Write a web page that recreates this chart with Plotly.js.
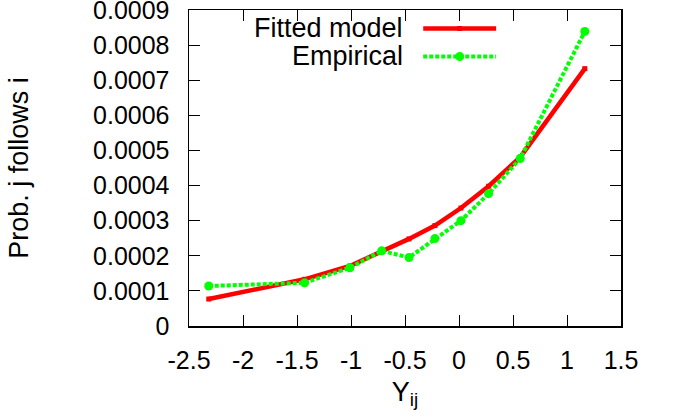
<!DOCTYPE html>
<html>
<head>
<meta charset="utf-8">
<script src="https://cdn.plot.ly/plotly-3.0.1.min.js"></script>
<style>html,body{margin:0;padding:0;background:#fff;}#chart{width:673px;height:419px;}</style>
</head>
<body>
<div id="chart"></div>
<script>
// Data
const yij = [-2.317, -1.43, -1.01, -0.716, -0.463, -0.223, 0.018, 0.274, 0.567, 1.165];
const fitted = [0.0000768, 0.000133, 0.000171, 0.000212, 0.000248, 0.000286, 0.000336, 0.000398, 0.000481, 0.000733];
const empirical = [0.000114, 0.000123, 0.000166, 0.000214, 0.000195, 0.000249, 0.000300, 0.000377, 0.000477, 0.000839];
const xTickVals = [-2.5, -2, -1.5, -1, -0.5, 0, 0.5, 1, 1.5];
const xTickText = ["-2.5", "-2", "-1.5", "-1", "-0.5", "0", "0.5", "1", "1.5"];
const yTickVals = [0, 0.0001, 0.0002, 0.0003, 0.0004, 0.0005, 0.0006, 0.0007, 0.0008, 0.0009];
const yTickText = ["0", "0.0001", "0.0002", "0.0003", "0.0004", "0.0005", "0.0006", "0.0007", "0.0008", "0.0009"];
const seriesNames = ["Fitted model", "Empirical"];

const RED = '#ff0000', GREEN = '#00ff00';
const FONT = 'Liberation Sans, Arial, Helvetica, sans-serif';

const traces = [
  {x: yij, y: fitted, name: seriesNames[0], mode: 'lines+markers', type: 'scatter',
   line: {color: RED, width: 4.5}, marker: {color: RED, symbol: 'square', size: 5}},
  {x: yij, y: empirical, name: seriesNames[1], mode: 'lines+markers', type: 'scatter',
   line: {color: GREEN, width: 4, dash: '4px,2px'}, marker: {color: GREEN, symbol: 'circle', size: 9}}
];

// Gnuplot-style legend: text right-aligned, line sample on the right
const legRows = [0.9415, 0.853];
const annotations = seriesNames.map((n, i) => ({
  xref: 'paper', yref: 'paper', x: 0.5006, y: legRows[i], xanchor: 'right', yanchor: 'middle',
  text: n, showarrow: false, font: {family: FONT, size: 27, color: '#000'}
}));
const shapes = [];
shapes.push({type: 'line', xref: 'paper', yref: 'paper', x0: 0.5422, x1: 0.711, y0: legRows[0], y1: legRows[0],
  line: {color: RED, width: 4.5}});
shapes.push({type: 'rect', xref: 'paper', yref: 'paper', xsizemode: 'pixel', ysizemode: 'pixel',
  xanchor: 0.6266, yanchor: legRows[0], x0: -2.5, x1: 2.5, y0: -2.5, y1: 2.5,
  fillcolor: RED, line: {width: 0}});
shapes.push({type: 'line', xref: 'paper', yref: 'paper', x0: 0.5422, x1: 0.711, y0: legRows[1], y1: legRows[1],
  line: {color: GREEN, width: 4, dash: '4px,2px'}});
shapes.push({type: 'circle', xref: 'paper', yref: 'paper', xsizemode: 'pixel', ysizemode: 'pixel',
  xanchor: 0.6266, yanchor: legRows[1], x0: -4.5, x1: 4.5, y0: -4.5, y1: 4.5,
  fillcolor: GREEN, line: {width: 0}});

const layout = {
  width: 673, height: 419,
  margin: {l: 188.5, r: 52, t: 9.5, b: 93, pad: 0},
  paper_bgcolor: '#fff', plot_bgcolor: '#fff',
  showlegend: false,
  font: {family: FONT, color: '#000', size: 25},
  xaxis: {
    range: [-2.5, 1.5], tickvals: xTickVals, ticktext: xTickText,
    ticks: 'inside', ticklen: 11, tickwidth: 1, tickcolor: '#000',
    showline: true, linecolor: '#000', linewidth: 1.5, mirror: 'allticks',
    showgrid: false, zeroline: false, ticklabelstandoff: 11, ticklabeloverflow: 'allow',
    tickfont: {family: FONT, size: 25, color: '#000'},
    title: {text: 'Y<sub>ij</sub>', font: {family: FONT, size: 27, color: '#000'}, standoff: 9}
  },
  yaxis: {
    range: [0, 0.0009], tickvals: yTickVals, ticktext: yTickText,
    ticks: 'inside', ticklen: 11, tickwidth: 1, tickcolor: '#000',
    showline: true, linecolor: '#000', linewidth: 1.5, mirror: 'allticks',
    showgrid: false, zeroline: false, ticklabelstandoff: 13, ticklabeloverflow: 'allow',
    tickfont: {family: FONT, size: 25, color: '#000'},
    title: {text: 'Prob. j follows i', font: {family: FONT, size: 27, color: '#000'}, standoff: 56}
  },
  annotations: annotations,
  shapes: shapes
};

Plotly.newPlot('chart', traces, layout, {staticPlot: true, displayModeBar: false});
</script>
</body>
</html>
